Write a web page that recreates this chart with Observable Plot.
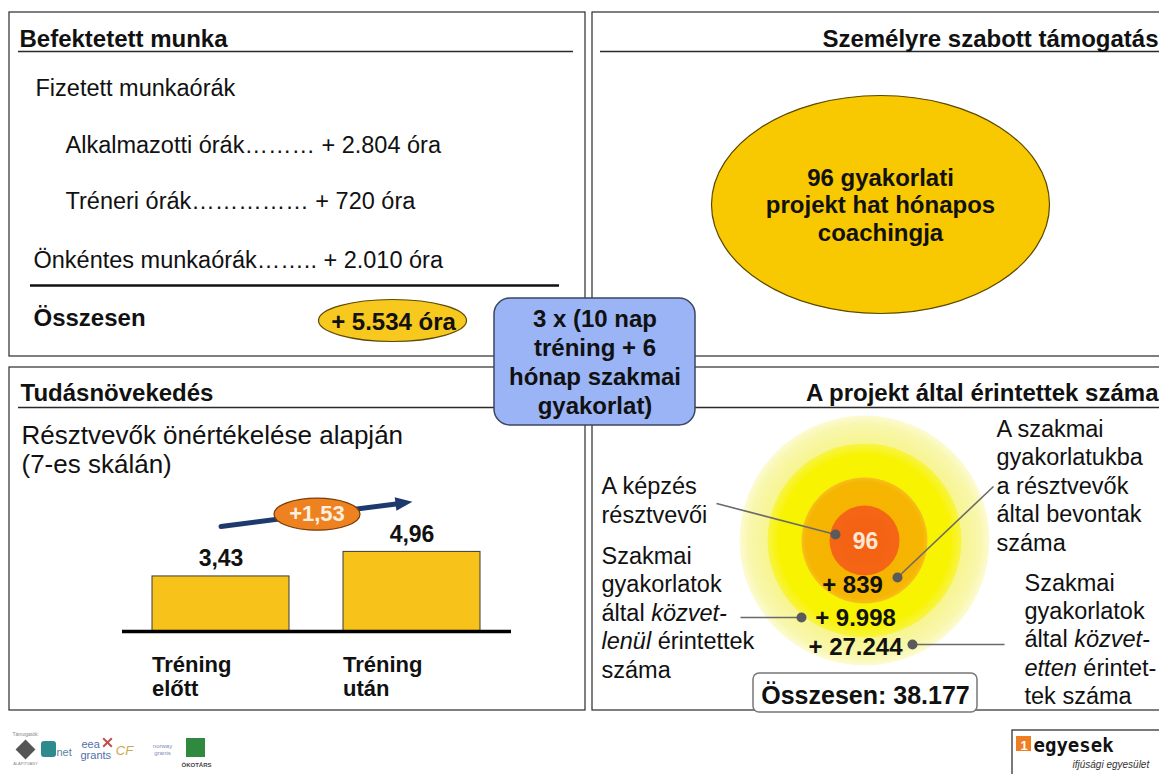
<!DOCTYPE html>
<html><head><meta charset="utf-8">
<script src="https://cdn.jsdelivr.net/npm/d3@7"></script>
<script src="https://cdn.jsdelivr.net/npm/@observablehq/plot@0.6"></script>
<style>html,body{margin:0;padding:0;background:#fff;overflow:hidden}#chart{width:1159px;height:774px}</style>
</head><body><div id="chart"></div>
<script>
// ---------------- data ----------------
const panelTitles = ["Befektetett munka", "Személyre szabott támogatás", "Tudásnövekedés", "A projekt által érintettek száma"];

const hourHeading = "Fizetett munkaórák";
const hourLabels = ["Alkalmazotti órák", "Tréneri órák", "Önkéntes munkaórák"];
const hourLeaders = ["………", "……………", "…….."];
const hourValues = [2804, 720, 2010];
const hourTotalLabel = "Összesen";
const hourTotal = 5534;

const practiceProjects = 96;
const supportLines = ["gyakorlati", "projekt hat hónapos", "coachingja"];

const programmeLines = ["3 x (10 nap", "tréning + 6", "hónap szakmai", "gyakorlat)"];

const knowledgeSubtitle = ["Résztvevők önértékelése alapján", "(7-es skálán)"];
const knowledgeCategories = ["Tréning előtt", "Tréning után"];
const knowledgeValues = [3.43, 4.96];
const knowledgeScaleMax = 7;

const reachValues = [96, 839, 9998, 27244];
const reachTotalLabel = "Összesen:";
const reachTotal = 38177;
const reachLabelParticipants = ["A képzés", "résztvevői"];
const reachLabelInvolved = ["A szakmai", "gyakorlatukba", "a résztvevők", "által bevontak", "száma"];
const reachLabelDirect = ["Szakmai", "gyakorlatok", "által _közvet-_", "_lenül_ érintettek", "száma"];
const reachLabelIndirect = ["Szakmai", "gyakorlatok", "által _közvet-_", "_etten_ érintet-", "tek száma"];

// ---------------- helpers ----------------
const W = 1159, H = 774;
const FONT = "'Liberation Sans', Arial, Helvetica, sans-serif";
const hu = d3.formatLocale({decimal: ",", thousands: ".", grouping: [3], currency: ["", ""]});
const fInt = hu.format(",d");
const fDec = hu.format(".2f");
const fDiff = hu.format("+.2f");

function ellipseSymbol(aspect) {
  const k = 0.5522847498;
  return {draw(ctx, size) {
    const rx = Math.sqrt(size / Math.PI), ry = rx / aspect;
    ctx.moveTo(rx, 0);
    ctx.bezierCurveTo(rx, k * ry, k * rx, ry, 0, ry);
    ctx.bezierCurveTo(-k * rx, ry, -rx, k * ry, -rx, 0);
    ctx.bezierCurveTo(-rx, -k * ry, -k * rx, -ry, 0, -ry);
    ctx.bezierCurveTo(k * rx, -ry, rx, -k * ry, rx, 0);
    ctx.closePath();
  }};
}
// filled arrow head pointing right (rotated by the dot's rotate option)
const arrowHead = {draw(ctx, size) {
  const r = Math.sqrt(size / Math.PI);
  ctx.moveTo(r, 0); ctx.lineTo(-r, -0.8 * r); ctx.lineTo(-r, 0.8 * r); ctx.closePath();
}};
const block = (x, y0, lh, arr) => arr.map((t, i) => ({x, y: y0 + i * lh, text: t}));
const T = (data, opts = {}) => Plot.text(data, {x: "x", y: "y", text: "text", lineAnchor: "bottom", fontFamily: FONT, fill: "#111", ...opts});

// ---------------- layout pieces ----------------
const panels = [
  {x1: 9, y1: 12, x2: 585, y2: 356},
  {x1: 592, y1: 12, x2: 1180, y2: 356},
  {x1: 9, y1: 367, x2: 585, y2: 710},
  {x1: 592, y1: 367, x2: 1180, y2: 710}
];
const headerRules = [
  {y: 51, x1: 18, x2: 573}, {y: 51, x1: 600, x2: 1159},
  {y: 407, x1: 18, x2: 560}, {y: 407, x1: 640, x2: 1159}
];

const hourX = [65, 65, 33], hourY = [152, 208, 267];
const hourRows = hourLabels.map((l, i) => ({x: hourX[i], y: hourY[i], text: `${l}${hourLeaders[i]} + ${fInt(hourValues[i])} óra`}));

const rings = [
  {value: reachValues[3], radius: 125, id: "gOuter"},
  {value: reachValues[2], radius: 97, id: "gYellow"},
  {value: reachValues[1], radius: 63, id: "gOrange"},
  {value: reachValues[0], radius: 35, id: "gRed"}
];
const ringCenter = {x: 864, y: 540};

const leaderLines = [
  {x1: 716, y1: 503, x2: 835, y2: 534},
  {x1: 993, y1: 486, x2: 897, y2: 577},
  {x1: 740, y1: 617, x2: 801, y2: 617},
  {x1: 1004, y1: 644, x2: 912, y2: 644}
];

const defsMark = () => {
  const defs = d3.create("svg:defs");
  const grad = (id, stops) => {
    const g = defs.append("radialGradient").attr("id", id).attr("cx", "50%").attr("cy", "50%").attr("r", "50%");
    stops.forEach(([o, c]) => g.append("stop").attr("offset", o).attr("stop-color", c));
  };
  grad("gOuter", [[0, "#f6f380"], [0.8, "#f7f594"], [0.93, "#f9f7ae"], [1, "#fcfbd4"]]);
  grad("gYellow", [[0, "#f8f300"], [0.88, "#f8f300"], [1, "#f8f446"]]);
  grad("gOrange", [[0, "#f6b300"], [0.93, "#f6b500"], [1, "#f7c020"]]);
  grad("gRed", [[0, "#f45f12"], [1, "#f46616"]]);
  return defs.node();
};

const main = Plot.plot({
  width: W, height: H, margin: 0,
  x: {type: "linear", domain: [0, W], range: [0, W], axis: null},
  y: {type: "linear", domain: [0, H], range: [0, H], axis: null},
  style: {fontFamily: FONT, background: "white"},
  marks: [
    defsMark,
    Plot.rect(panels, {x1: "x1", y1: "y1", x2: "x2", y2: "y2", fill: "white", stroke: "#2a2a2a", strokeWidth: 1.2}),
    Plot.ruleY(headerRules, {y: "y", x1: "x1", x2: "x2", stroke: "#2a2a2a", strokeWidth: 1.4}),
    T([{x: 19, y: 46, text: panelTitles[0]}, {x: 20, y: 400, text: panelTitles[2]}], {textAnchor: "start", fontWeight: "bold", fontSize: 24}),
    T([{x: 1158, y: 46, text: panelTitles[1]}, {x: 1158, y: 400, text: panelTitles[3]}], {textAnchor: "end", fontWeight: "bold", fontSize: 24}),

    // Befektetett munka
    T([{x: 35, y: 95, text: hourHeading}], {textAnchor: "start", fontSize: 23.5}),
    T(hourRows, {textAnchor: "start", fontSize: 23.5, letterSpacing: 0.25}),
    Plot.ruleY([{y: 285, x1: 30, x2: 559}], {y: "y", x1: "x1", x2: "x2", stroke: "#111", strokeWidth: 2.5}),
    T([{x: 33, y: 325, text: hourTotalLabel}], {textAnchor: "start", fontWeight: "bold", fontSize: 24}),
    Plot.dot([{x: 392, y: 320}], {x: "x", y: "y", r: 74, symbol: ellipseSymbol(74 / 21), fill: "#f7c81e", stroke: "#5e4a08", strokeWidth: 1.2}),
    T([{x: 393, y: 329, text: `+ ${fInt(hourTotal)} óra`}], {fontWeight: "bold", fontSize: 24}),

    // Személyre szabott támogatás
    Plot.dot([{x: 880, y: 204}], {x: "x", y: "y", r: 169, symbol: ellipseSymbol(169 / 109), fill: "#f8c800", stroke: "#5a4800", strokeWidth: 1.2}),
    T(block(880, 185, 27.5, [`${practiceProjects} ${supportLines[0]}`, supportLines[1], supportLines[2]]), {fontWeight: "bold", fontSize: 24}),

    // Tudásnövekedés text
    T(block(21, 443, 29, knowledgeSubtitle), {textAnchor: "start", fontSize: 26}),

    // Érintettek: rings
    ...rings.map(r => Plot.dot([{...ringCenter, v: r.value}], {x: "x", y: "y", r: r.radius, fill: `url(#${r.id})`})),
    Plot.link(leaderLines, {x1: "x1", y1: "y1", x2: "x2", y2: "y2", stroke: "#6a6a6a", strokeWidth: 1.6}),
    Plot.dot(leaderLines, {x: "x2", y: "y2", r: 5, fill: "#5a5a5a"}),
    T([{x: 865, y: 548, text: fInt(reachValues[0])}], {fontWeight: "bold", fontSize: 23, fill: "#fbe8d4"}),
    T([{x: 852, y: 592, text: `+ ${fInt(reachValues[1])}`}, {x: 855, y: 625, text: `+ ${fInt(reachValues[2])}`}, {x: 855, y: 654, text: `+ ${fInt(reachValues[3])}`}], {fontWeight: "bold", fontSize: 24}),
    Plot.rect([{x1: 753, x2: 977, y1: 673, y2: 712}], {x1: "x1", x2: "x2", y1: "y1", y2: "y2", rx: 6, fill: "white", stroke: "#777", strokeWidth: 1.5}),
    T([{x: 865, y: 703, text: `${reachTotalLabel} ${fInt(reachTotal)}`}], {fontWeight: "bold", fontSize: 25}),
    T(block(601, 493, 29, reachLabelParticipants), {textAnchor: "start", fontSize: 23.5}),
    T(block(601, 563, 28.6, reachLabelDirect), {textAnchor: "start", fontSize: 23.5}),
    T(block(996, 436, 28.6, reachLabelInvolved), {textAnchor: "start", fontSize: 23.5}),
    T(block(1024, 590, 28.4, reachLabelIndirect), {textAnchor: "start", fontSize: 23.5}),

    // central programme box
    Plot.rect([{x1: 494, x2: 695, y1: 298, y2: 425}], {x1: "x1", x2: "x2", y1: "y1", y2: "y2", rx: 16, fill: "#9ab4f6", stroke: "#3b4560", strokeWidth: 1.5}),
    T(block(594.5, 326, 29, programmeLines), {fontWeight: "bold", fontSize: 24}),

    // logos (bottom left)
    T([{x: 12, y: 735, text: "Támogatók:"}], {textAnchor: "start", fontSize: 5, fill: "#888"}),
    Plot.dot([{x: 25, y: 749}], {x: "x", y: "y", r: 8, symbol: "diamond2", fill: "#555", stroke: "#555"}),
    T([{x: 25, y: 764, text: "ALAPÍTVÁNY"}], {fontSize: 4, fill: "#888"}),
    Plot.rect([{x1: 41, x2: 56, y1: 741, y2: 757}], {x1: "x1", x2: "x2", y1: "y1", y2: "y2", rx: 3, fill: "#2f8a8e"}),
    T([{x: 56, y: 755, text: "net"}], {textAnchor: "start", fontSize: 11, fill: "#5a7fa0"}),
    T([{x: 81, y: 747, text: "eea"}, {x: 80, y: 758, text: "grants"}], {textAnchor: "start", fontSize: 11, fill: "#4f6fa8"}),
    Plot.dot([{x: 107, y: 742}], {x: "x", y: "y", r: 4, symbol: "times", stroke: "#c0504d", strokeWidth: 2}),
    T([{x: 124, y: 754, text: "CF"}], {fontSize: 13, fill: "#c9a850", fontStyle: "italic"}),
    T([{x: 162, y: 747, text: "norway"}, {x: 162, y: 754, text: "grants"}], {fontSize: 6, fill: "#7c8cc0"}),
    Plot.rect([{x1: 186, x2: 205, y1: 738, y2: 757}], {x1: "x1", x2: "x2", y1: "y1", y2: "y2", fill: "#2f8a40"}),
    T([{x: 196, y: 766, text: "ÖKOTÁRS"}], {fontSize: 6, fontWeight: "bold", fill: "#444"}),

    // logo (bottom right)
    Plot.rect([{x1: 1012, x2: 1175, y1: 730, y2: 790}], {x1: "x1", x2: "x2", y1: "y1", y2: "y2", fill: "white", stroke: "#222", strokeWidth: 1.2}),
    Plot.rect([{x1: 1016, x2: 1031, y1: 736, y2: 751}], {x1: "x1", x2: "x2", y1: "y1", y2: "y2", fill: "#ef7d22"}),
    T([{x: 1023.5, y: 749, text: "1"}], {fontSize: 13, fontWeight: "bold", fill: "#fff"}),
    T([{x: 1033, y: 751, text: "egyesek"}], {textAnchor: "start", fontSize: 19, fontWeight: "bold", fill: "#111", fontFamily: "'DejaVu Sans Mono', monospace"}),
    T([{x: 1072, y: 767, text: "ifjúsági egyesület"}], {textAnchor: "start", fontSize: 10, fontStyle: "italic", fill: "#333"})
  ]
});

// ---------------- bar chart (own scales) ----------------
const barData = knowledgeCategories.map((c, i) => ({cat: c, value: knowledgeValues[i]}));
const diff = {from: knowledgeCategories[0], to: knowledgeCategories[1], y1: knowledgeValues[0], y2: knowledgeValues[1], mid: (knowledgeValues[0] + knowledgeValues[1]) / 2, delta: knowledgeValues[1] - knowledgeValues[0]};
const baseY = 631, unit = 16.05, barStep = 191.9;
const headRotate = -Math.atan2(diff.delta * unit, barStep) * 180 / Math.PI;
const bars = Plot.plot({
  width: W, height: H,
  marginLeft: 122, marginRight: W - 511, marginTop: baseY - unit * knowledgeScaleMax, marginBottom: H - baseY,
  x: {type: "band", domain: knowledgeCategories, paddingInner: 0.281, paddingOuter: 0.154, axis: null},
  y: {domain: [0, knowledgeScaleMax], axis: null},
  style: {fontFamily: FONT, background: "transparent"},
  marks: [
    Plot.barY(barData, {x: "cat", y: "value", fill: "#f7c31b", stroke: "#3a3a3a", strokeWidth: 1}),
    Plot.ruleY([0], {stroke: "#000", strokeWidth: 3.5}),
    Plot.text(barData, {x: "cat", y: "value", text: d => fDec(d.value), dy: -10, lineAnchor: "bottom", fontWeight: "bold", fontSize: 23, fontFamily: FONT, fill: "#111"}),
    Plot.text(barData, {x: "cat", y: 0, text: d => d.cat.replace(" ", "\n"), textAnchor: "start", dx: -69, dy: 64, lineAnchor: "bottom", lineHeight: 1.06, fontWeight: "bold", fontSize: 22, fontFamily: FONT, fill: "#111"}),
    Plot.arrow([diff], {x1: "from", y1: "y1", x2: "to", y2: "y2", dy: -50, stroke: "#1d3a6e", strokeWidth: 5, headLength: 0, insetEnd: 10}),
    Plot.dot([diff], {x: "to", y: "y2", dx: -8, dy: -49, r: 8.5, symbol: arrowHead, rotate: headRotate, fill: "#1d3a6e"}),
    Plot.dot([diff], {x: "from", y: "mid", dx: 96, dy: -50, r: 43, symbol: ellipseSymbol(43 / 16), fill: "#ee8220", stroke: "#7a3c08", strokeWidth: 1.2}),
    Plot.text([diff], {x: "from", y: "mid", dx: 96, dy: -50, text: d => fDiff(d.delta), lineAnchor: "middle", fontWeight: "bold", fontSize: 22, fontFamily: FONT, fill: "#fdf0e0"})
  ]
});

// merge bar chart into the main svg
const g = document.createElementNS("http://www.w3.org/2000/svg", "g");
["class", "fill", "font-family", "font-size", "text-anchor"].forEach(a => { if (bars.getAttribute(a)) g.setAttribute(a, bars.getAttribute(a)); });
while (bars.firstChild) g.appendChild(bars.firstChild);
main.appendChild(g);

// italic spans marked with _..._
main.querySelectorAll("text").forEach(t => {
  if (t.childElementCount === 0 && t.textContent.includes("_")) {
    const parts = t.textContent.split("_");
    t.textContent = "";
    parts.forEach((p, i) => {
      if (!p) return;
      const ts = document.createElementNS("http://www.w3.org/2000/svg", "tspan");
      ts.textContent = p;
      if (i % 2) ts.setAttribute("font-style", "italic");
      t.appendChild(ts);
    });
  }
});

document.getElementById("chart").appendChild(main);
</script>
</body></html>
